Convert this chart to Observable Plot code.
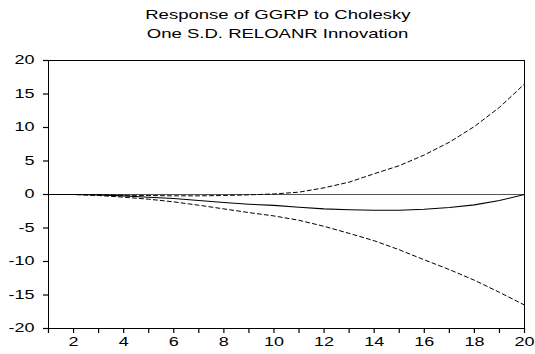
<!DOCTYPE html>
<html>
<head>
<meta charset="utf-8">
<script src="https://cdn.jsdelivr.net/npm/d3@7"></script>
<script src="https://cdn.jsdelivr.net/npm/@observablehq/plot@0.6"></script>
<style>
  html, body { margin: 0; padding: 0; background: #fff; }
  #title { width: 535px; height: 44px; box-sizing: border-box; padding-top: 6px; padding-left: 21px;
           text-align: center; font-family: "Liberation Sans", Arial, sans-serif; font-size: 12.7px;
           line-height: 18.5px; color: #000; }
  #title span { display: inline-block; transform: scaleX(1.46); transform-origin: center; white-space: nowrap; }
</style>
</head>
<body>
<div id="title"><span>Response of GGRP to Cholesky</span><br><span>One S.D. RELOANR Innovation</span></div>
<div id="chart"></div>
<script>
const titleLines = ["Response of GGRP to Cholesky", "One S.D. RELOANR Innovation"];
const periods = [1,2,3,4,5,6,7,8,9,10,11,12,13,14,15,16,17,18,19,20];
const response = [0, 0, -0.05, -0.2, -0.4, -0.6, -0.9, -1.2, -1.45, -1.62, -1.9, -2.15, -2.28, -2.34, -2.35, -2.2, -1.95, -1.55, -0.9, 0];
const upperBand = [0, 0, -0.05, -0.1, -0.15, -0.2, -0.2, -0.15, -0.05, 0.08, 0.35, 1.0, 1.84, 3.1, 4.3, 5.9, 7.8, 10.15, 13.0, 16.5];
const lowerBand = [0, 0, -0.15, -0.4, -0.7, -1.1, -1.6, -2.15, -2.7, -3.2, -3.85, -4.75, -5.8, -6.9, -8.25, -9.75, -11.2, -12.8, -14.6, -16.5];
const yTicks = [-20, -15, -10, -5, 0, 5, 10, 15, 20];
const xLabelTicks = [2, 4, 6, 8, 10, 12, 14, 16, 18, 20];

const rows = periods.map((p, i) => ({p, r: response[i], u: upperBand[i], l: lowerBand[i]}));

const chart = Plot.plot({
  width: 535,
  height: 310,
  marginLeft: 48,
  marginRight: 11,
  marginTop: 16,
  marginBottom: 26,
  style: {fontFamily: "Liberation Sans, Arial, sans-serif", fontSize: "12px", color: "#000", background: "#fff"},
  x: {domain: [1, 20], label: null},
  y: {domain: [-20, 20], label: null},
  marks: [
    Plot.ruleY([0], {stroke: "#555", strokeWidth: 1.2}),
    Plot.lineY(rows, {x: "p", y: "u", stroke: "#000", strokeWidth: 1, strokeDasharray: "4,3"}),
    Plot.lineY(rows, {x: "p", y: "l", stroke: "#000", strokeWidth: 1, strokeDasharray: "4,3"}),
    Plot.lineY(rows, {x: "p", y: "r", stroke: "#000", strokeWidth: 1.1}),
    Plot.frame({stroke: "#000", strokeWidth: 1}),
    Plot.axisY({ticks: yTicks, tickSize: 5, tickPadding: 9, tickFormat: d => String(d), label: null}),
    Plot.axisX({ticks: periods, tickSize: 5, tickPadding: 4,
                tickFormat: d => xLabelTicks.includes(d) ? String(d) : "", label: null})
  ]
});

chart.querySelectorAll('g[aria-label$="tick label"] text').forEach(t => {
  const tr = t.getAttribute("transform") || "";
  t.setAttribute("transform", tr + " scale(1.5,1)");
});
chart.querySelectorAll('g[aria-label$="-axis tick"]').forEach(g => {
  g.setAttribute("stroke", "#000");
  g.setAttribute("stroke-width", "1.2");
});
document.getElementById("chart").appendChild(chart);
</script>
</body>
</html>
